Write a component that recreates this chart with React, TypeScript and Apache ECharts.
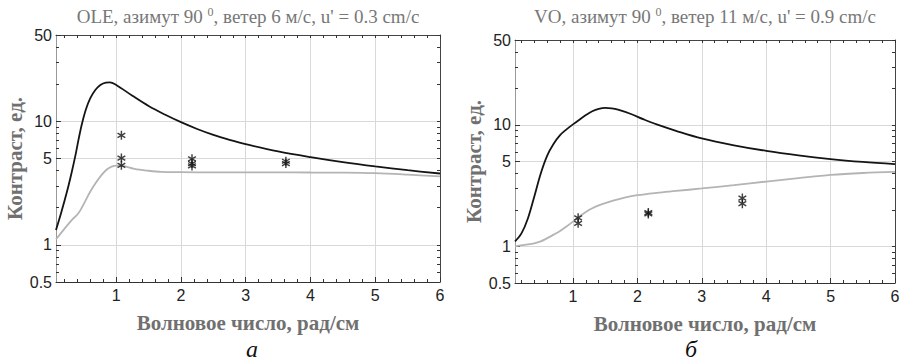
import React, { useEffect, useRef } from 'react';
import * as echarts from 'echarts';

// ---- tick values ----
const xMajorTicks = [1, 2, 3, 4, 5, 6];
const xMinorTicks = [0.2, 0.4, 0.6, 0.8, 1.2, 1.4, 1.6, 1.8, 2.2, 2.4, 2.6, 2.8, 3.2, 3.4, 3.6, 3.8, 4.2, 4.4, 4.6, 4.8, 5.2, 5.4, 5.6, 5.8];
const yMajorTicks = [0.5, 1, 5, 10, 50];
const yMinorTicks = [0.6, 0.7, 0.8, 0.9, 2, 3, 4, 6, 7, 8, 9, 20, 30, 40];

// ---- panel a (OLE) ----
const aBlackX = [0.07, 0.15, 0.24, 0.31, 0.37, 0.42, 0.47, 0.53, 0.6, 0.68, 0.76, 0.84, 0.9, 1.0, 1.25, 1.5, 1.75, 2.0, 2.25, 2.5, 2.75, 3.0, 3.5, 4.0, 4.5, 5.0, 5.5, 6.0];
const aBlackY = [1.32, 1.82, 2.7, 3.82, 5.3, 7.2, 9.5, 12.4, 15.4, 18.0, 19.8, 20.6, 20.7, 19.7, 16.1, 13.3, 11.35, 9.84, 8.67, 7.76, 7.08, 6.53, 5.71, 5.13, 4.67, 4.31, 4.02, 3.78];
const aGrayX = [0.07, 0.15, 0.25, 0.33, 0.4, 0.45, 0.52, 0.6, 0.68, 0.76, 0.85, 0.93, 1.0, 1.1, 1.28, 1.5, 1.7, 2.0, 2.5, 3.0, 3.5, 4.0, 4.5, 5.0, 5.5, 6.0];
const aGrayY = [1.11, 1.25, 1.45, 1.62, 1.76, 1.92, 2.25, 2.7, 3.15, 3.6, 4.05, 4.3, 4.38, 4.35, 4.12, 3.98, 3.9, 3.88, 3.86, 3.86, 3.86, 3.85, 3.84, 3.8, 3.7, 3.58];
const aStarX = [1.08, 1.08, 1.08, 2.17, 2.17, 2.17, 3.62, 3.62];
const aStarY = [7.7, 5.04, 4.4, 4.97, 4.55, 4.35, 4.75, 4.55];

// ---- panel b (VO) ----
const bBlackX = [0.1, 0.2, 0.3, 0.4, 0.5, 0.6, 0.7, 0.8, 0.9, 1.0, 1.1, 1.2, 1.3, 1.4, 1.5, 1.6, 1.7, 1.9, 2.1, 2.3, 2.6, 3.0, 3.5, 4.0, 4.5, 5.0, 5.5, 6.0];
const bBlackY = [1.1, 1.28, 1.7, 2.58, 3.99, 5.6, 7.0, 8.25, 9.2, 10.1, 11.05, 12.05, 12.95, 13.55, 13.8, 13.7, 13.35, 12.3, 11.1, 10.1, 8.95, 7.75, 6.8, 6.12, 5.62, 5.24, 4.96, 4.75];
const bGrayX = [0.1, 0.25, 0.4, 0.5, 0.6, 0.7, 0.8, 0.9, 1.0, 1.1, 1.2, 1.3, 1.4, 1.5, 1.65, 1.8, 2.0, 2.3, 2.6, 3.0, 3.5, 4.0, 4.5, 5.0, 5.5, 6.0];
const bGrayY = [1.0, 1.03, 1.06, 1.1, 1.17, 1.25, 1.34, 1.46, 1.6, 1.76, 1.92, 2.06, 2.18, 2.27, 2.4, 2.52, 2.64, 2.76, 2.86, 3.0, 3.2, 3.42, 3.65, 3.88, 4.02, 4.1];
const bStarX = [1.08, 1.08, 2.17, 2.17, 3.63, 3.63];
const bStarY = [1.72, 1.55, 1.9, 1.85, 2.5, 2.25];

const titleA = ['OLE, азимут 90 ', '0', ", ветер 6 м/с, u' = 0.3 cm/с"];
const titleB = ['VO, азимут 90 ', '0', ", ветер 11 м/с, u' = 0.9 cm/с"];
const xName = 'Волновое число, рад/см';
const yName = 'Контраст, ед.';

function asteriskPath(): string {
  const w = 1.6, L = 10;
  const parts: string[] = [];
  [0, 60, 120].forEach((deg) => {
    const a = (deg * Math.PI) / 180;
    const pts = [[-w, -L], [w, -L], [w, L], [-w, L]].map(([x, y]) => [
      x * Math.cos(a) - y * Math.sin(a),
      x * Math.sin(a) + y * Math.cos(a),
    ]);
    parts.push('M' + pts.map((p) => p[0].toFixed(3) + ' ' + p[1].toFixed(3)).join(' L') + ' Z');
  });
  return 'path://' + parts.join(' ');
}

const lg = (v: number) => Math.log10(v);
const pairs = (xs: number[], ys: number[]) => xs.map((x, i) => [x, lg(ys[i])]);

export default function App() {
  const ref = useRef<HTMLDivElement>(null);
  useEffect(() => {
    document.body.style.margin = '0';
    if (!ref.current) return;
    const chart = echarts.init(ref.current, null, { renderer: 'svg' });

    const grids = [
      { left: 56, top: 35, width: 384, height: 247 },
      { left: 515, top: 40, width: 380, height: 243 },
    ];
    const xMins = [0.07, 0.1];
    const tickColor = '#333';
    const labelStyle = { fontFamily: 'Liberation Sans', fontSize: 16, color: '#222' };
    const nameStyle = { fontFamily: 'Liberation Serif', fontWeight: 'bold' as const, fontSize: 21, color: '#707070' };

    const xAxis: any[] = [];
    const yAxis: any[] = [];
    grids.forEach((_, g) => {
      const base = { gridIndex: g, type: 'value', min: xMins[g], max: 6 };
      xAxis.push({
        ...base, position: 'bottom',
        axisLine: { show: true, onZero: false, lineStyle: { color: '#333', width: 1 } },
        axisTick: { show: true, inside: true, length: 5, customValues: xMajorTicks, lineStyle: { color: tickColor } },
        axisLabel: { show: true, customValues: xMajorTicks, margin: 5, ...labelStyle },
        splitLine: { show: true, lineStyle: { color: '#d9d9d9', width: 1 } },
        name: xName, nameLocation: 'middle', nameGap: 30, nameTextStyle: nameStyle,
      });
      xAxis.push({
        ...base, position: 'bottom',
        axisLine: { show: false, onZero: false },
        axisTick: { show: true, inside: true, length: 3, customValues: xMinorTicks, lineStyle: { color: tickColor } },
        axisLabel: { show: false }, splitLine: { show: false },
      });
      xAxis.push({
        ...base, position: 'top',
        axisLine: { show: true, onZero: false, lineStyle: { color: '#444', width: 1 } },
        axisTick: { show: true, inside: true, length: 3, customValues: xMinorTicks.concat(xMajorTicks), lineStyle: { color: tickColor } },
        axisLabel: { show: false }, splitLine: { show: false },
      });

      const ybase = { gridIndex: g, type: 'value', min: lg(0.5), max: lg(50) };
      yAxis.push({
        ...ybase, position: 'left',
        axisLine: { show: true, onZero: false, lineStyle: { color: '#999', width: 1 } },
        axisTick: { show: true, inside: true, length: 5, customValues: yMajorTicks.map(lg), lineStyle: { color: tickColor } },
        axisLabel: {
          show: true, customValues: yMajorTicks.map(lg), margin: 4, ...labelStyle,
          formatter: (v: number) => String(+Math.pow(10, v).toPrecision(2)),
        },
        splitLine: { show: true, lineStyle: { color: '#d9d9d9', width: 1 } },
        name: yName, nameLocation: 'middle', nameGap: 30, nameRotate: 90, nameTextStyle: nameStyle,
      });
      yAxis.push({
        ...ybase, position: 'left',
        axisLine: { show: false, onZero: false },
        axisTick: { show: true, inside: true, length: 3, customValues: yMinorTicks.map(lg), lineStyle: { color: tickColor } },
        axisLabel: { show: false }, splitLine: { show: false },
      });
      yAxis.push({
        ...ybase, position: 'right',
        axisLine: { show: true, onZero: false, lineStyle: { color: '#444', width: 1 } },
        axisTick: { show: true, inside: true, length: 3, customValues: yMinorTicks.concat(yMajorTicks).map(lg), lineStyle: { color: tickColor } },
        axisLabel: { show: false }, splitLine: { show: false },
      });
    });

    const star = asteriskPath();
    const lineSeries = (g: number, data: number[][], color: string, width: number) => ({
      type: 'line', xAxisIndex: g * 3, yAxisIndex: g * 3, data, showSymbol: false,
      smooth: 0.35, lineStyle: { color, width }, z: 3,
    });
    const starSeries = (g: number, data: number[][]) => ({
      type: 'scatter', xAxisIndex: g * 3, yAxisIndex: g * 3, data, symbol: star,
      symbolSize: [8.5, 9], itemStyle: { color: '#111' }, z: 4,
    });

    const series = [
      lineSeries(0, pairs(aGrayX, aGrayY), '#b4b4b4', 1.8),
      lineSeries(0, pairs(aBlackX, aBlackY), '#141414', 1.8),
      starSeries(0, pairs(aStarX, aStarY)),
      lineSeries(1, pairs(bGrayX, bGrayY), '#b4b4b4', 1.8),
      lineSeries(1, pairs(bBlackX, bBlackY), '#141414', 1.8),
      starSeries(1, pairs(bStarX, bStarY)),
    ];

    const titleText = (t: string[], x: number) => ({
      type: 'text', x, y: 16,
      style: {
        text: '{t|' + t[0] + '}{s|' + t[1] + '}{t|' + t[2] + '}',
        align: 'center', verticalAlign: 'middle',
        rich: {
          t: { font: '19px "Liberation Serif"', fill: '#777', lineHeight: 21 },
          s: { font: '12px "Liberation Serif"', fill: '#777', verticalAlign: 'top', lineHeight: 21 },
        },
      },
    });
    const subText = (t: string, x: number) => ({
      type: 'text', x, y: 349,
      style: { text: t, font: 'italic 24px "Liberation Serif"', fill: '#111', align: 'center', verticalAlign: 'middle' },
    });

    chart.setOption({
      animation: false,
      grid: grids.map((g) => ({ ...g, containLabel: false })),
      xAxis, yAxis, series,
      graphic: [titleText(titleA, 248), titleText(titleB, 705), subText('а', 252), subText('б', 691)],
    });
    return () => chart.dispose();
  }, []);
  return <div ref={ref} style={{ width: 905, height: 363 }} />;
}
